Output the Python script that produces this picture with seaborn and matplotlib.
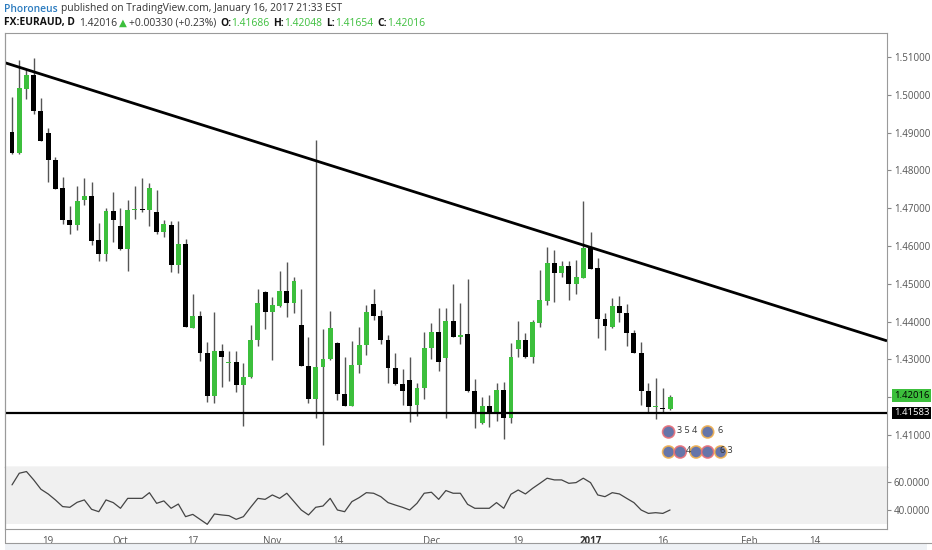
import numpy as np
import pandas as pd
import matplotlib
matplotlib.use('Agg')
import matplotlib.pyplot as plt
from matplotlib.transforms import IdentityTransform
import seaborn as sns

# EURAUD daily candles, Sep 12 2016 - Jan 17 2017
dates = pd.bdate_range('2016-09-12', periods=92)
opens = [1.4901, 1.4845, 1.5015, 1.5052, 1.4957, 1.4900, 1.4828, 1.4753, 1.4669, 1.4656,
         1.4722, 1.4732, 1.4616, 1.4578, 1.4693, 1.4654, 1.4591, 1.4694, 1.4697, 1.4694,
         1.4689, 1.4638, 1.4656, 1.4550, 1.4605, 1.4384, 1.4416, 1.4318, 1.4204, 1.4323,
         1.4290, 1.4294, 1.4232, 1.4253, 1.4350, 1.4479, 1.4426, 1.4442, 1.4482, 1.4450,
         1.4391, 1.4283, 1.4194, 1.4281, 1.4300, 1.4344, 1.4208, 1.4178, 1.4285, 1.4338,
         1.4446, 1.4416, 1.4351, 1.4278, 1.4235, 1.4246, 1.4179, 1.4224, 1.4329, 1.4373,
         1.4303, 1.4402, 1.4360, 1.4366, 1.4216, 1.4131, 1.4178, 1.4157, 1.4219, 1.4144,
         1.4327, 1.4351, 1.4305, 1.4396, 1.4455, 1.4556, 1.4528, 1.4547, 1.4499, 1.4516,
         1.4594, 1.4541, 1.4407, 1.4387, 1.4441, 1.4424, 1.4371, 1.4316, 1.4216, 1.4175,
         1.4172, 1.41686]
highs = [1.4995, 1.5092, 1.5068, 1.5097, 1.4991, 1.4911, 1.4836, 1.4782, 1.4707, 1.4760,
         1.4781, 1.4770, 1.4662, 1.4700, 1.4742, 1.4700, 1.4722, 1.4760, 1.4779, 1.4766,
         1.4748, 1.4669, 1.4666, 1.4666, 1.4618, 1.4473, 1.4428, 1.4345, 1.4425, 1.4341,
         1.4323, 1.4322, 1.4290, 1.4391, 1.4485, 1.4480, 1.4466, 1.4534, 1.4557, 1.4519,
         1.4486, 1.4360, 1.4880, 1.4380, 1.4428, 1.4346, 1.4306, 1.4349, 1.4387, 1.4444,
         1.4486, 1.4431, 1.4365, 1.4318, 1.4275, 1.4306, 1.4237, 1.4372, 1.4396, 1.4435,
         1.4437, 1.4499, 1.4448, 1.4513, 1.4248, 1.4201, 1.4206, 1.4237, 1.4239, 1.4343,
         1.4402, 1.4371, 1.4404, 1.4537, 1.4597, 1.4589, 1.4560, 1.4560, 1.4563, 1.4719,
         1.4636, 1.4568, 1.4422, 1.4462, 1.4469, 1.4446, 1.4378, 1.4347, 1.4237, 1.4250,
         1.4225, 1.42048]
lows = [1.4843, 1.4843, 1.4988, 1.4949, 1.4878, 1.4770, 1.4750, 1.4658, 1.4631, 1.4642,
        1.4709, 1.4603, 1.4561, 1.4560, 1.4610, 1.4590, 1.4535, 1.4671, 1.4690, 1.4654,
        1.4631, 1.4623, 1.4532, 1.4529, 1.4386, 1.4383, 1.4296, 1.4187, 1.4184, 1.4228,
        1.4244, 1.4213, 1.4125, 1.4252, 1.4336, 1.4380, 1.4298, 1.4438, 1.4413, 1.4422,
        1.4282, 1.4184, 1.4144, 1.4074, 1.4298, 1.4193, 1.4177, 1.4176, 1.4263, 1.4312,
        1.4404, 1.4340, 1.4237, 1.4233, 1.4179, 1.4134, 1.4151, 1.4195, 1.4300, 1.4268,
        1.4144, 1.4359, 1.4341, 1.4215, 1.4118, 1.4130, 1.4122, 1.4138, 1.4089, 1.4131,
        1.4307, 1.4304, 1.4291, 1.4387, 1.4444, 1.4453, 1.4517, 1.4457, 1.4473, 1.4515,
        1.4538, 1.4356, 1.4325, 1.4382, 1.4400, 1.4335, 1.4316, 1.4179, 1.4157, 1.4142,
        1.4160, 1.41654]
closes = [1.4845, 1.5017, 1.5052, 1.4957, 1.4879, 1.4828, 1.4751, 1.4669, 1.4656, 1.4718,
          1.4732, 1.4613, 1.4578, 1.4693, 1.4669, 1.4591, 1.4694, 1.4697, 1.4694, 1.4753,
          1.4638, 1.4657, 1.4550, 1.4605, 1.4387, 1.4416, 1.4316, 1.4204, 1.4323, 1.4306,
          1.4292, 1.4232, 1.4253, 1.4351, 1.4450, 1.4426, 1.4444, 1.4482, 1.4450, 1.4507,
          1.4283, 1.4194, 1.4281, 1.4300, 1.4382, 1.4209, 1.4178, 1.4285, 1.4338, 1.4426,
          1.4415, 1.4351, 1.4278, 1.4234, 1.4217, 1.4178, 1.4224, 1.4329, 1.4373, 1.4292,
          1.4402, 1.4360, 1.4365, 1.4216, 1.4157, 1.4177, 1.4159, 1.4219, 1.4144, 1.4305,
          1.4351, 1.4305, 1.4398, 1.4457, 1.4556, 1.4528, 1.4547, 1.4499, 1.4517, 1.4594,
          1.4539, 1.4407, 1.4389, 1.4441, 1.4422, 1.4369, 1.4316, 1.4216, 1.4175, 1.4178,
          1.41686, 1.42016]

# RSI pane values
rsi = [57.7, 65.9, 67.1, 61.2, 54.6, 51.3, 47.1, 42.4, 41.9, 45.4,
       47.1, 40.5, 38.8, 47.1, 45.2, 41.2, 48.2, 48.2, 48.2, 52.2,
       44.7, 46.4, 41.2, 44.2, 35.3, 36.9, 33.4, 29.9, 37.2, 36.5,
       36.0, 33.4, 35.3, 41.9, 48.2, 47.5, 50.6, 48.2, 51.8, 45.9,
       40.0, 36.5, 41.9, 42.8, 48.2, 40.0, 38.8, 45.9, 48.7, 52.2,
       51.8, 49.4, 45.2, 43.5, 41.9, 40.0, 44.7, 51.8, 52.5, 47.5,
       53.7, 51.8, 51.8, 44.0, 41.2, 41.2, 41.2, 45.2, 41.2, 51.1,
       54.1, 51.3, 55.3, 58.8, 62.4, 61.2, 61.2, 58.8, 59.3, 62.4,
       59.3, 50.6, 49.4, 52.2, 51.3, 48.2, 45.2, 40.0, 37.6, 38.1,
       37.6, 40.0]

# drawn lines
trend_x = [-1, 121]
trend_y = [1.5085, 1.4349]
support = 1.41583
last_price = 1.42016

price_ticks = [1.41, 1.42, 1.43, 1.44, 1.45, 1.46, 1.47, 1.48, 1.49, 1.50, 1.51]
rsi_ticks = [40, 60]
date_tick_pos = [5, 15, 25, 36, 45, 58, 70, 80, 90, 102, 111]
date_tick_labels = ['19', 'Oct', '17', 'Nov', '14', 'Dec', '19', '2017', '16', 'Feb', '14']

# economic event icons under the last bars
event_x = [90.8, 96.2, 90.8, 92.4, 94.6, 96.2, 98.0]
event_y = [1.4108, 1.4108, 1.4055, 1.4055, 1.4055, 1.4055, 1.4055]
event_edge = ['#e8707a', '#f0b050', '#f0b050', '#e8707a', '#f0b050', '#e8707a', '#f0b050']
event_text_x = [93.4, 97.9, 93.6, 98.8]
event_text_y = [1.4111, 1.4111, 1.4058, 1.4058]
event_text = ['3 5 4', '6', '4', '6 3']

GREEN = '#3cbf3c'
FONT = ['Open Sans', 'DejaVu Sans']

sns.set_theme(style='white')
plt.rcParams['font.family'] = FONT

df = pd.DataFrame({'date': dates, 'open': opens, 'high': highs, 'low': lows,
                   'close': closes, 'rsi': rsi})
df['i'] = np.arange(len(df))
df['up'] = df['close'] >= df['open']

W, H = 932, 550
fig = plt.figure(figsize=(W / 100, H / 100), dpi=100)
fig.patch.set_facecolor('white')


def px_axes(x0, y0, x1, y1):
    return fig.add_axes([x0 / W, 1 - y1 / H, (x1 - x0) / W, (y1 - y0) / H])


ax = px_axes(5, 33, 887, 467)
ax_r = px_axes(5, 467, 887, 529)

# --- candles
ax.vlines(df['i'], df['low'], df['high'], color='#555555', linewidth=1, zorder=2)
body_lo = np.minimum(df['open'], df['close'])
body_h = np.maximum((df['close'] - df['open']).abs(), 0.00028)
colors = np.where(df['up'], GREEN, '#000000')
ax.bar(df['i'], body_h, bottom=body_lo, width=0.68, color=colors, linewidth=0, zorder=3)

ax.plot(trend_x, trend_y, color='black', linewidth=2, zorder=4, solid_capstyle='butt')
ax.axhline(support, color='black', linewidth=1.6, zorder=4)

# event icons
ax.scatter(event_x, event_y, s=75, c='#5566a0', edgecolors=event_edge, linewidths=1.2,
           alpha=0.9, zorder=5)
for tx, ty, s in zip(event_text_x, event_text_y, event_text):
    ax.text(tx, ty, s, fontsize=6.5, color='#333333', ha='center', va='center', zorder=7)

ax.set_xlim(-0.97, 121.0)
ax.set_ylim(1.40153, 1.51635)
ax.set_xticks([])
ax.yaxis.tick_right()
ax.set_yticks(price_ticks)
# the 1.42 label sits under the last-price badge, as on the original
ax.set_yticklabels(['' if abs(t - 1.42) < 1e-9 else f'{t:.5f}' for t in price_ticks])
ax.tick_params(axis='y', labelsize=7, labelcolor='#555555', color='#888888',
               length=3, width=0.8, pad=2, right=True)

# last price / support badges
ax.annotate(f'{last_price:.5f}', xy=(1.0, last_price + 0.0003), xycoords=('axes fraction', 'data'),
            xytext=(5, 0), textcoords='offset points', fontsize=6.8, color='black',
            va='center', ha='left',
            bbox=dict(boxstyle='square,pad=0.18', fc=GREEN, ec='none'), zorder=10,
            annotation_clip=False)
ax.annotate(f'{support:.5f}', xy=(1.0, support), xycoords=('axes fraction', 'data'),
            xytext=(5, 0), textcoords='offset points', fontsize=6.8, color='white',
            va='center', ha='left',
            bbox=dict(boxstyle='square,pad=0.18', fc='black', ec='none'), zorder=10,
            annotation_clip=False)

for sp in ax.spines.values():
    sp.set_color('#9a9a9a')
    sp.set_linewidth(0.8)
ax.spines['bottom'].set_color('#555555')

# --- RSI pane
ax_r.axhspan(30, 70, color='#f0f0f0', linewidth=0, zorder=0)
sns.lineplot(data=df, x='i', y='rsi', ax=ax_r, color='#444444', linewidth=0.9)
ax_r.set_xlim(-0.97, 121.0)
ax_r.set_ylim(26.6, 70.3)
ax_r.set_xlabel('')
ax_r.set_ylabel('')
ax_r.yaxis.tick_right()
ax_r.set_yticks(rsi_ticks)
ax_r.set_yticklabels([f'{t:.4f}' for t in rsi_ticks])
ax_r.tick_params(axis='y', labelsize=7, labelcolor='#555555', color='#888888',
                 length=3, width=0.8, pad=2, right=True)
ax_r.set_xticks(date_tick_pos)
ax_r.set_xticklabels(date_tick_labels)
ax_r.tick_params(axis='x', labelsize=7, labelcolor='#555555', length=0, pad=5)
for lab in ax_r.get_xticklabels():
    if lab.get_text() == '2017':
        lab.set_fontweight('bold')
        lab.set_color('#333333')
for sp in ax_r.spines.values():
    sp.set_color('#9a9a9a')
    sp.set_linewidth(0.8)
ax_r.spines['top'].set_visible(False)

# outer frame and bottom strip
fig.add_artist(plt.Rectangle((5 / W, 0 / H), 922 / W, 7 / H, transform=fig.transFigure,
                             facecolor='#eef1f5', edgecolor='none'))
fig.add_artist(plt.Line2D([5 / W, 5 / W], [7 / H, 1 - 33 / H], transform=fig.transFigure,
                          color='#9a9a9a', linewidth=0.8))
fig.add_artist(plt.Line2D([5 / W, 1], [7 / H, 7 / H], transform=fig.transFigure,
                          color='#9a9a9a', linewidth=0.8))

# --- header rows (pixel placement)
renderer = fig.canvas.get_renderer()


def header_row(y_px, parts, size=7.4):
    x = 4
    for s, color, weight, gap in parts:
        t = fig.text(x, H - y_px, s, color=color, fontweight=weight, fontsize=size,
                     va='center', ha='left', transform=IdentityTransform(), family=FONT)
        x = t.get_window_extent(renderer).x1 + gap


header_row(9, [('Phoroneus', '#2b7bbf', 'semibold', 3),
               ('published on TradingView.com, January 16, 2017 21:33 EST', '#333333', 'normal', 0)])
header_row(23, [('FX:EURAUD, D', '#111111', 'bold', 4),
                ('1.42016', '#333333', 'normal', 2),
                ('\u25b2', GREEN, 'normal', 2),
                ('+0.00330 (+0.23%)', '#333333', 'normal', 4),
                ('O:', '#111111', 'bold', 0), ('1.41686', GREEN, 'normal', 4),
                ('H:', '#111111', 'bold', 0), ('1.42048', GREEN, 'normal', 4),
                ('L:', '#111111', 'bold', 0), ('1.41654', GREEN, 'normal', 4),
                ('C:', '#111111', 'bold', 0), ('1.42016', GREEN, 'normal', 0)])

fig.savefig('out.png', dpi=100, facecolor=fig.get_facecolor())
plt.close(fig)
